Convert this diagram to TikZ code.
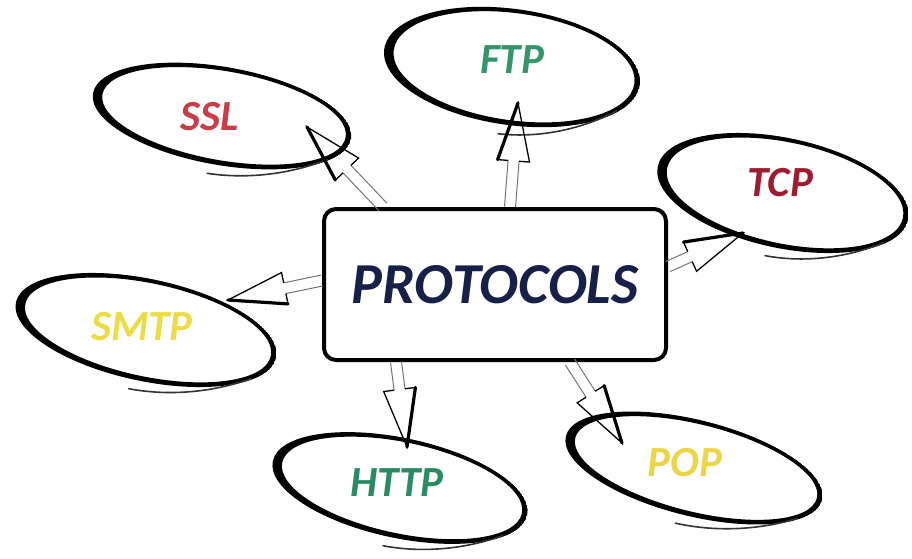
\documentclass[tikz,border=0pt]{standalone}
\usepackage{fontspec}
\setmainfont{Carlito}
\usetikzlibrary{calc}

\definecolor{navy}{RGB}{22,32,72}
\definecolor{sslred}{RGB}{200,62,72}
\definecolor{tcpred}{RGB}{158,28,48}
\definecolor{ftpgreen}{RGB}{52,150,104}
\definecolor{httpgreen}{RGB}{42,138,98}
\definecolor{mailyellow}{RGB}{236,220,72}
\definecolor{popyellow}{RGB}{236,214,72}

\tikzset{
  lbl/.style={font=\fontsize{43}{45}\selectfont\bfseries\itshape, inner sep=0pt},
  hub/.style={draw, line width=4pt, rounded corners=12pt,
    minimum width=342pt, minimum height=151pt, inner sep=0pt,
    font=\fontsize{58}{60}\selectfont\bfseries\itshape, text=navy},
  shaftline/.style={draw=black!55, line width=1pt},
  headline/.style={draw=black, line width=1.3pt, line join=miter},
  % outlined block arrow along the local x axis; #1 = length
  pics/hollowarrow/.style={code={
    \pgfmathsetlengthmacro\harrL{#1}
    \pgfmathsetlengthmacro\harrB{#1-58pt}
    \draw[shaftline] (0pt,5.5pt) -- (\harrB,5.5pt) (0pt,-5.5pt) -- (\harrB,-5.5pt);
    \draw[headline] (\harrB,5.5pt) -- (\harrB,16pt) -- (\harrL,0pt) -- (\harrB,-16pt) -- (\harrB,-5.5pt);
    \draw[line width=3.2pt, line cap=round] (\harrB,16pt) -- (\harrL,0pt);
  }}
}

% hand-brushed ring: #1 centre, #2/#3 semi-axes (pt), #4 tilt (deg, clockwise)
\newcommand\brushring[4]{%
  \begin{scope}[shift={#1}, rotate=-#4]
    \begin{scope}
      \clip (0pt,0pt) ellipse [x radius=#2pt, y radius=#3pt];
      \fill[even odd rule] (0pt,0pt) ellipse [x radius=#2pt, y radius=#3pt]
        (2pt,0.5pt) ellipse [x radius=#2pt-7.5pt, y radius=#3pt-4.5pt];
    \end{scope}
    \draw[black!80, line width=1.6pt, line cap=round]
      ({-0.035*#2*1pt},{-(#3+10)*1pt})
      .. controls ({0.30*#2*1pt},{-(#3+9)*1pt}) and ({0.62*#2*1pt},{-(0.80*#3+4)*1pt})
      .. ({0.85*#2*1pt},{-0.50*#3*1pt});
  \end{scope}}

% block arrow from one point to another
\newcommand\linkarrow[2]{%
  \path let \p1=(#1), \p2=(#2),
    \n1={atan2(\y2-\y1,\x2-\x1)}, \n2={veclen(\x2-\x1,\y2-\y1)}
    in (\p1) pic[rotate=\n1] {hollowarrow=\n2};}

\begin{document}
\begin{tikzpicture}[x=1pt, y=-1pt]
  \useasboundingbox (0,0) rectangle (912,558);

  % labels
  \node[hub] (box) at (495,284.5) {PROTOCOLS};
  \node[lbl, text=sslred]     (ssl)  at (210,117) {SSL};
  \node[lbl, text=ftpgreen]   (ftp)  at (512,60)  {FTP};
  \node[lbl, text=tcpred]     (tcp)  at (780,183) {TCP};
  \node[lbl, text=mailyellow] (smtp) at (142,327) {SMTP};
  \node[lbl, text=httpgreen]  (http) at (397,483) {HTTP};
  \node[lbl, text=popyellow]  (pop)  at (685,463) {POP};

  % rings
  \brushring{($(ssl)+(12,-1)$)}{131}{49}{10}
  \brushring{($(ftp)+(0,7)$)}{129}{58}{8}
  \brushring{($(tcp)+(3,10)$)}{128}{55}{12}
  \brushring{($(smtp)+(4,3)$)}{133}{51}{12}
  \brushring{($(http)+(3,5)$)}{130}{50}{12}
  \brushring{($(pop)+(9,5)$)}{132}{48}{14}

  % connectors
  \linkarrow{$(box.north)+(-112,0)$}{$(ssl)+(97,10)$}
  \linkarrow{$(box.north)+(15,0)$}{$(ftp)+(6,43)$}
  \linkarrow{$(box.east)+(0,-18)$}{$(tcp)+(-37,50)$}
  \linkarrow{$(box.west)+(0,-4)$}{$(smtp)+(86,-27)$}
  \linkarrow{$(box.south)+(-99,0)$}{$(http)+(10,-36)$}
  \linkarrow{$(box.south)+(75,0)$}{$(pop)+(-63,-20)$}
\end{tikzpicture}
\end{document}
